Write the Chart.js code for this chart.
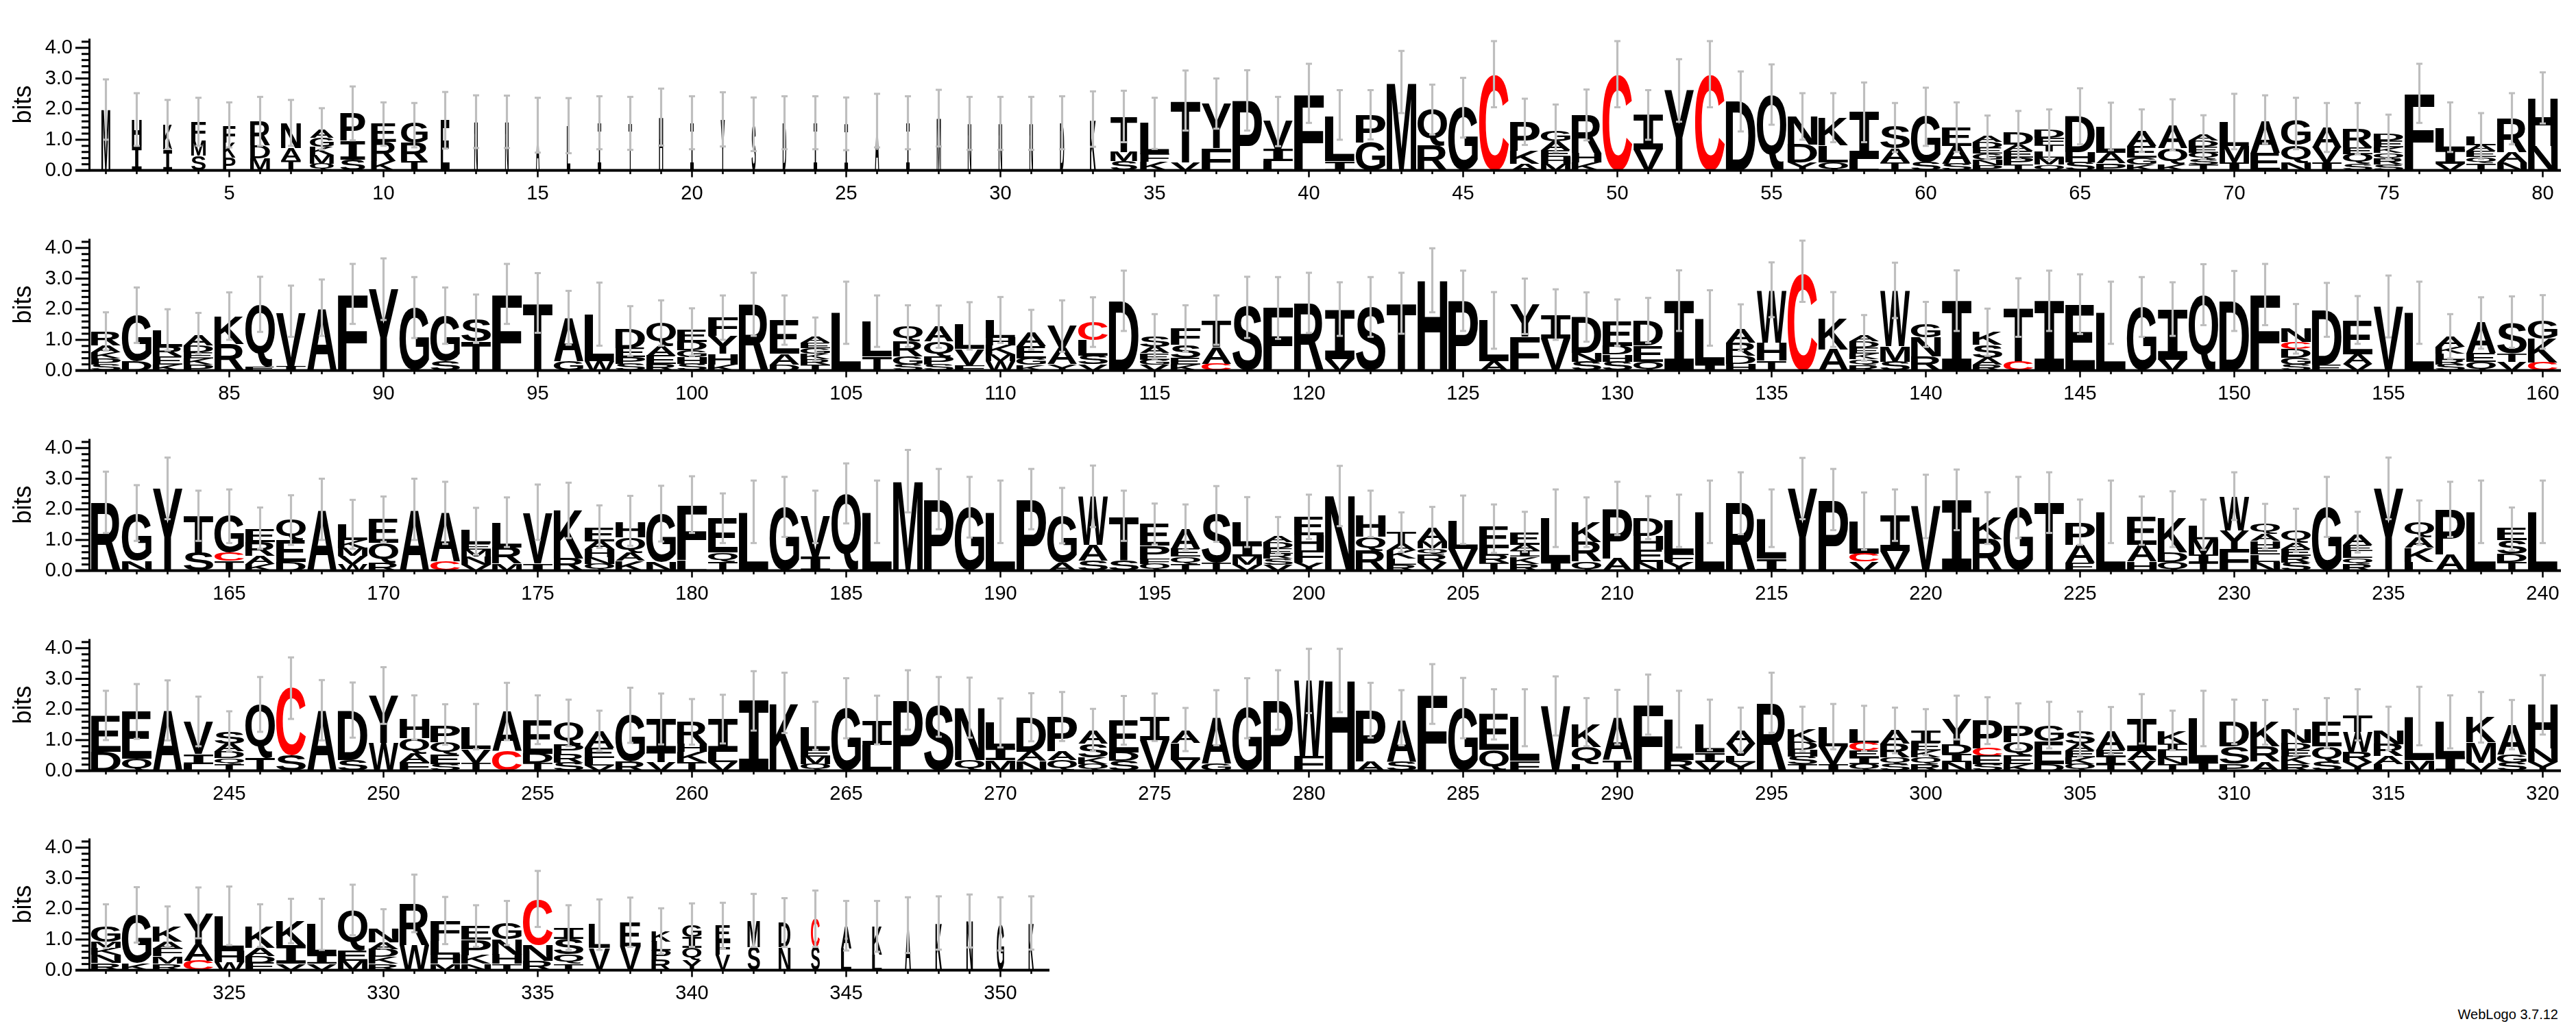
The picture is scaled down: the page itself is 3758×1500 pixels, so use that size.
<!DOCTYPE html>
<html>
<head>
<meta charset="utf-8">
<title>Sequence logo</title>
<script src="https://cdn.jsdelivr.net/npm/chart.js@4"></script>
<style>
  body { margin: 0; background: #fff; }
  #page { position: relative; width: 3758px; height: 1500px; background: #fff; overflow: hidden; }
  #page canvas { position: absolute; left: 0; }
  #credit { position: absolute; right: 26px; top: 1470px; font: 20px "Liberation Sans", Arial, sans-serif; line-height: 20px; color: #000; }
</style>
</head>
<body>
<div id="page">
  <canvas id="row0"></canvas>
  <canvas id="row1"></canvas>
  <canvas id="row2"></canvas>
  <canvas id="row3"></canvas>
  <canvas id="row4"></canvas>
  <div id="credit">WebLogo 3.7.12</div>
</div>
<script>
// letters of each stack, listed bottom -> top (positions 1..351)
const stackLetters = [
  // 1-80
  'M','IH','IK','SMF','PKF','MDR','TAN','QMKGA','SIP','KRE',
  'TRG','E','N','N','A','L','I','T','H','I',
  'Y','S','D','I','I','A','I','M','N','N',
  'N','D','K','SMT','KFL','VT','FY','P','LIV','F',
  'IL','GP','M','RQ','G','C','AKP','MHEAG','KHR','C',
  'VI','Y','C','D','Q','YDN','QLK','LI','TAS','SG',
  'SAE','PNGEDA','TPEAD','QMLTFD','SHD','PAL','KGEA','KQA','TSQEDA','IML',
  'EA','NQG','IVA','SQER','SRQKED','F','VIL','TQEAL','NAR','NH',
  // 81-160
  'SPKAR','DG','KERL','PKEDA','RK','EQ','IV','A','F','Y',
  'G','SG','TS','F','T','GA','WL','SPED','REAQ','SHGDE',
  'KHYF','R','DAE','TRKGEA','L','TL','SGRQ','SPQA','FVL','WMKHL',
  'KGEA','YAV','VSLC','D','VGEAS','KESF','CAT','S','LF','R',
  'VI','S','T','H','P','AL','FY','VI','SND','SHDE',
  'QED','I','IL','HDRA','THW','C','AK','RQKEDA','SMW','RNG',
  'I','RASK','CT','I','E','L','G','VI','Q','D',
  'F','SGDCN','ED','VAE','V','L','SRLKA','QEA','VTS','CKG',
  // 161-240
  'R','NG','Y','ST','TCG','KARE','DEQ','A','WVMKL','RQE',
  'A','CA','VNMEL','MRL','IV','RK','QNHAE','KAQH','NG','LF',
  'TQE','L','G','IV','Q','L','M','P','G','L',
  'P','AG','SAW','ST','QFPE','TQEA','TS','VMIL','VSREDA','YFHE',
  'N','RQH','RLKAT','VRQMA','VL','TRLE','RKIAE','IL','QRK','AP',
  'NEHD','YFL','L','R','IL','Y','P','VCL','VI','V',
  'I','RK','G','T','EAP','L','HAE','QDK','TIML','FYW',
  'NLEHAQ','SREAQ','G','RQLEA','Y','LKAQ','AP','L','TDSE','L',
  // 241-320
  'DE','QE','A','LIV','TQDAS','TQ','SC','A','SD','WY',
  'FAQH','SEQP','TVL','CA','TDE','SRPQ','VLEA','RG','VTI','TKHR',
  'VLI','I','K','QMEL','G','LI','P','S','QN','MIL',
  'NAD','QAP','QKSA','SDE','VI','VLA','GA','G','P','FW',
  'H','AP','SA','F','G','QE','FL','V','LQK','TA',
  'F','RL','VIL','YLVA','R','TSHDK','IVL','QIECL','SQRA','RQKEI',
  'NIDY','SECP','KEQP','DEG','QKEAS','TIEA','VAI','TNLIK','IL','PSD',
  'ARK','RKEDN','SQE','YRWT','LARN','ML','IL','VMK','SGA','YNH',
  // 321-351
  'RNKMG','KG','RMFAK','CAY','WHL','EDAK','VIK','VIL','MEQ','RKDAN',
  'WR','MHLF','NKPE','THNG','RNC','TQSI','VL','VE','RPLK','YQIG',
  'VFE','SM','ND','SC','LA','LK','A','K','N','G','K'
];

// height in bits of each letter, same order as stackLetters
const stackBits = [
  // 1-80
  [2.0],[0.8,0.85],[0.68,0.8],[0.48,0.5,0.6],[0.42,0.48,0.55],[0.4,0.42,0.78],[0.33,0.4,0.8],[0.22,0.28,0.27,0.3,0.25],[0.35,0.62,0.9],[0.3,0.62,0.6],
  [0.3,0.6,0.68],[1.65],[1.58],[1.58],[1.47],[1.46],[1.55],[1.54],[1.74],[1.55],
  [1.66],[1.5],[1.55],[1.55],[1.52],[1.62],[1.55],[1.7],[1.54],[1.54],
  [1.54],[1.56],[1.64],[0.3,0.3,1.15],[0.28,0.25,1.03],[0.25,2.0],[0.72,1.45],[2.28],[0.3,0.4,0.9],[2.48],
  [0.3,1.45],[0.9,0.9],[2.87],[0.8,1.18],[2.05],[3.13],[0.22,0.42,0.95],[0.22,0.22,0.22,0.28,0.36],[0.27,0.3,1.23],[3.13],
  [0.68,1.12],[2.63],[3.13],[2.25],[2.45],[0.25,0.6,0.93],[0.27,0.55,0.9],[0.37,1.55],[0.25,0.47,0.72],[0.25,1.52],
  [0.22,0.58,0.6],[0.18,0.17,0.2,0.19,0.2,0.2],[0.2,0.22,0.22,0.2,0.4],[0.2,0.22,0.2,0.22,0.22,0.26],[0.25,0.35,1.18],[0.23,0.35,0.85],[0.2,0.22,0.38,0.5],[0.2,0.53,0.75],[0.2,0.16,0.22,0.2,0.2,0.2],[0.25,0.55,0.78],
  [0.57,1.05],[0.25,0.57,0.8],[0.25,0.5,0.65],[0.2,0.33,0.22,0.6],[0.18,0.2,0.2,0.17,0.22,0.23],[2.5],[0.22,0.45,0.7],[0.23,0.2,0.2,0.2,0.27],[0.25,0.33,1.1],[0.8,1.55],
  // 81-160
  [0.2,0.2,0.2,0.22,0.46],[0.3,1.5],[0.2,0.25,0.33,0.55],[0.2,0.2,0.2,0.22,0.35],[0.87,0.88],[0.13,2.0],[0.13,1.75],[2.0],[2.49],[2.65],
  [2.04],[0.3,1.48],[0.95,0.72],[2.49],[2.2],[0.3,1.4],[0.3,1.53],[0.22,0.22,0.3,0.64],[0.22,0.27,0.32,0.74],[0.22,0.22,0.22,0.28,0.4],
  [0.2,0.35,0.58,0.6],[2.17],[0.2,0.35,1.1],[0.2,0.17,0.18,0.17,0.18,0.2],[1.9],[0.45,1.15],[0.2,0.25,0.5,0.5],[0.2,0.25,0.5,0.5],[0.18,0.52,0.8],[0.3,0.22,0.3,0.25,0.58],
  [0.18,0.22,0.4,0.45],[0.2,0.55,0.72],[0.2,0.28,0.5,0.6],[2.26],[0.2,0.16,0.2,0.22,0.35],[0.2,0.22,0.42,0.55],[0.22,0.55,0.85],[2.08],[0.07,2.0],[2.2],
  [0.38,1.6],[2.07],[2.2],[2.94],[2.28],[0.3,1.35],[1.1,1.05],[1.05,0.77],[0.29,0.28,1.17],[0.29,0.24,0.27,0.8],
  [0.29,0.52,0.8],[2.27],[0.2,1.5],[0.22,0.26,0.42,0.45],[0.32,0.58,1.7],[3.15],[0.68,1.02],[0.17,0.2,0.18,0.2,0.2,0.2],[0.29,0.5,1.8],[0.45,0.63,0.45],
  [2.27],[0.2,0.22,0.42,0.42],[0.29,1.75],[2.27],[2.15],[1.9],[2.05],[0.36,1.62],[2.48],[2.26],
  [2.48],[0.2,0.22,0.28,0.22,0.45],[0.2,1.77],[0.22,0.3,1.1],[2.1],[1.89],[0.2,0.16,0.2,0.22,0.35],[0.29,0.27,1.0],[0.29,0.27,1.0],[0.26,0.78,0.6],
  // 161-240
  [2.23],[0.32,1.52],[2.68],[0.58,1.2],[0.32,0.27,1.2],[0.22,0.27,0.45,0.42],[0.28,0.7,0.7],[1.97],[0.22,0.26,0.26,0.26,0.5],[0.26,0.65,0.77],
  [1.95],[0.29,1.58],[0.2,0.25,0.23,0.2,0.45],[0.23,0.53,0.8],[0.23,1.64],[0.39,1.58],[0.22,0.22,0.26,0.26,0.45],[0.32,0.26,0.5,0.5],[0.29,1.57],[0.35,1.8],
  [0.29,0.3,1.12],[1.9],[2.07],[0.45,1.33],[2.52],[1.9],[2.92],[2.33],[2.07],[1.9],
  [2.33],[0.26,1.54],[0.33,0.52,1.57],[0.33,1.42],[0.22,0.16,0.43,0.72],[0.22,0.23,0.25,0.65],[0.26,1.58],[0.2,0.25,0.4,0.75],[0.2,0.2,0.16,0.18,0.2,0.2],[0.26,0.4,0.5,0.6],
  [2.45],[0.65,0.45,0.7],[0.2,0.2,0.25,0.23,0.38],[0.26,0.26,0.2,0.23,0.45],[0.71,0.92],[0.26,0.25,0.22,0.7],[0.22,0.23,0.2,0.2,0.4],[0.29,1.42],[0.29,0.65,0.67],[0.39,1.62],
  [0.29,0.4,0.45,0.56],[0.29,0.27,1.1],[1.93],[2.21],[0.39,1.3],[2.68],[2.32],[0.29,0.25,1.07],[0.65,1.15],[2.12],
  [2.3],[1.03,0.72],[2.06],[2.22],[0.26,0.58,0.72],[1.92],[0.29,0.55,0.9],[0.29,0.3,1.12],[0.26,0.26,0.5,0.45],[0.71,0.6,1.1],
  [0.29,0.23,0.22,0.23,0.23,0.32],[0.26,0.22,0.22,0.2,0.42],[2.07],[0.22,0.2,0.22,0.2,0.35],[2.68],[0.29,0.45,0.35,0.5],[0.52,1.48],[1.92],[0.29,0.26,0.45,0.4],[1.92],
  // 241-320
  [0.62,1.16],[0.4,1.54],[1.97],[0.22,0.32,1.05],[0.22,0.2,0.22,0.25,0.38],[0.42,1.74],[0.5,2.2],[1.97],[0.36,1.61],[0.9,1.55],
  [0.28,0.28,0.5,0.62],[0.22,0.3,0.42,0.55],[0.26,0.44,0.7],[0.64,1.3],[0.26,0.3,1.1],[0.26,0.28,0.3,0.74],[0.16,0.25,0.33,0.55],[0.3,1.52],[0.29,0.33,1.08],[0.29,0.33,0.25,0.72],
  [0.29,0.33,1.07],[2.29],[2.2],[0.22,0.25,0.22,0.75],[2.04],[0.85,0.78],[2.3],[2.12],[0.35,1.7],[0.35,0.4,0.82],
  [0.32,0.3,1.12],[0.35,0.28,1.12],[0.22,0.22,0.45,0.42],[0.32,0.28,1.05],[1.0,0.75],[0.36,0.55,0.4],[0.23,1.5],[2.06],[2.3],[0.48,2.45],
  [2.93],[0.3,1.67],[0.3,1.35],[2.49],[2.04],[0.68,1.17],[0.32,1.42],[2.12],[0.22,0.55,0.75],[0.33,1.38],
  [2.15],[0.35,1.33],[0.29,0.3,0.9],[0.29,0.2,0.4,0.42],[2.2],[0.22,0.25,0.22,0.25,0.42],[0.22,0.57,0.62],[0.22,0.22,0.22,0.25,0.45],[0.22,0.22,0.45,0.45],[0.22,0.22,0.22,0.25,0.4],
  [0.29,0.25,0.3,0.85],[0.22,0.27,0.25,0.92],[0.22,0.27,0.45,0.56],[0.22,0.75,0.5],[0.22,0.22,0.22,0.22,0.4],[0.22,0.25,0.22,0.6],[0.35,0.3,1.05],[0.22,0.22,0.22,0.22,0.4],[0.29,1.42],[0.22,0.57,0.8],
  [0.29,0.5,0.8],[0.22,0.25,0.22,0.22,0.45],[0.29,0.5,0.8],[0.29,0.33,0.65,0.55],[0.22,0.25,0.4,0.45],[0.35,1.4],[0.45,1.15],[0.26,0.66,0.82],[0.26,0.25,0.98],[0.29,0.45,1.45],
  // 321-351
  [0.24,0.26,0.22,0.2,0.5],[0.24,1.55],[0.21,0.24,0.25,0.23,0.5],[0.31,0.53,1.0],[0.25,0.36,1.15],[0.24,0.22,0.27,0.7],[0.21,0.6,0.78],[0.21,0.3,1.0],[0.31,0.33,1.3],[0.21,0.22,0.25,0.22,0.45],
  [0.82,1.35],[0.21,0.3,0.45,0.65],[0.21,0.28,0.5,0.45],[0.21,0.3,0.5,0.52],[0.31,0.52,1.47],[0.21,0.3,0.5,0.35],[0.72,0.78],[0.78,0.78],[0.34,0.3,0.3,0.33],[0.34,0.4,0.35,0.38],
  [0.5,0.45,0.5],[0.76,0.86],[0.76,0.8],[0.76,0.92],[0.7,0.73],[0.5,0.93],[1.46],[1.54],[1.6],[1.51],[1.54]
];

// relative stack width (fraction of sequences without a gap), one line per logo row
const stackWidthRow1 = [
  0.3,0.33,0.3,0.49,0.42,0.67,0.67,0.81,0.84,0.84, 0.9,0.3,0.12,0.12,0.12,0.12,0.12,0.12,0.14,0.12,
  0.14,0.14,0.12,0.12,0.12,0.14,0.12,0.14,0.12,0.12, 0.12,0.14,0.2,0.9,0.98,1,1,1,1,1,
  1,1,1,1,1,1,1,1,1,1, 1,1,1,1,1,1,1,1,1,1, 1,1,1,1,1,1,1,1,1,1, 1,1,1,1,1,1,1,1,1,1
];
const stackWidthRow2 = [
  1,1,1,1,1,1,1,1,1,1, 1,1,1,1,1,1,1,1,1,1, 1,1,1,1,1,1,1,1,1,1, 1,1,1,1,1,1,1,1,1,1,
  1,1,1,1,1,1,1,1,1,1, 1,1,1,1,1,1,1,1,1,1, 1,1,1,1,1,1,1,1,1,1, 1,1,1,1,1,1,1,1,1,1
];
const stackWidthRow3 = [
  1,1,1,1,1,1,1,1,1,1, 1,1,1,1,1,1,1,1,1,1, 1,1,1,1,1,1,1,1,1,1, 1,1,1,1,1,1,1,1,1,1,
  1,1,1,1,1,1,1,1,1,1, 1,1,1,1,1,1,1,1,1,1, 1,1,1,1,1,1,1,1,1,1, 1,1,1,1,1,1,1,1,1,1
];
const stackWidthRow4 = [
  1,1,1,1,1,1,1,1,1,1, 1,1,1,1,1,1,1,1,1,1, 1,1,1,1,1,1,1,1,1,1, 1,1,1,1,1,1,1,1,1,1,
  1,1,1,1,1,1,1,1,1,1, 1,1,1,1,1,1,1,1,1,1, 1,1,1,1,1,1,1,1,1,1, 1,1,1,1,1,1,1,1,1,1
];
const stackWidthRow5 = [
  1,1,1,1,1,1,1,1,1,1, 1,1,1,1,1,1,0.72,0.7,0.65,0.65,
  0.5,0.42,0.4,0.3,0.35,0.33,0.2,0.22,0.22,0.25,0.18
];
const stackWidth = [...stackWidthRow1, ...stackWidthRow2, ...stackWidthRow3, ...stackWidthRow4, ...stackWidthRow5];

// error bar ends (bits)
const errLow = [
  1.0,0.8,0.7,0.8,0.75,0.8,0.8,0.68,0.98,0.8, 0.75,0.71,0.73,0.73,0.58,0.56,0.69,0.67,0.81,0.69,
  0.78,0.63,0.69,0.69,0.66,0.75,0.69,0.78,0.67,0.67, 0.67,0.69,0.77,0.92,0.7,1.3,1.36,1.3,0.79,1.55,
  1.0,1.01,1.87,1.17,1.07,2.06,0.83,0.6,0.98,2.06, 1.0,1.59,2.06,1.27,1.49,1.0,0.92,0.92,0.6,0.8,
  0.6,0.35,0.37,0.34,0.85,0.66,0.6,0.66,0.37,0.69, 0.88,0.69,0.6,0.53,0.37,1.55,0.6,0.37,0.85,1.53,
  0.65,0.9,0.65,0.55,1.0,1.26,1.1,1.13,1.52,1.65, 1.06,0.87,0.9,1.52,1.23,0.84,0.81,0.48,0.81,0.48,
  1.0,1.13,0.84,0.32,0.87,0.77,0.77,0.74,0.68,0.9, 0.68,0.61,0.77,1.29,0.39,0.61,0.84,1.06,1.03,1.23,
  1.13,1.1,1.2,1.9,1.29,0.71,1.19,1.0,0.94,0.81, 0.9,1.29,0.81,0.65,1.74,2.24,0.77,0.32,1.71,0.77,
  1.29,0.48,1.1,1.29,1.19,0.87,1.1,1.13,1.48,1.29, 1.48,0.55,1.1,0.87,1.08,0.87,0.39,0.71,0.74,0.71,
  1.23,0.97,1.68,0.97,0.9,0.71,0.84,1.0,0.71,0.94, 1.0,0.87,0.52,0.77,1.0,1.06,0.74,0.81,0.95,1.23,
  0.9,0.9,1.1,0.9,1.54,0.9,1.9,1.35,1.08,0.9, 1.35,0.89,1.42,0.97,0.85,0.68,0.94,0.77,0.55,1.03,
  1.45,1.1,0.61,0.65,0.87,0.58,0.61,0.77,0.77,1.16, 1.03,0.77,0.9,1.19,0.77,1.68,1.32,0.68,0.97,1.06,
  1.32,0.87,1.06,1.23,0.84,0.9,0.84,0.77,0.68,1.65, 0.71,0.61,1.1,0.59,1.68,0.84,1.1,0.9,0.65,0.9,
  1.0,1.04,0.99,0.8,0.64,1.27,1.69,0.99,1.08,1.53, 1.02,0.85,0.7,1.0,0.87,0.8,0.64,0.91,0.86,0.85,
  0.89,1.31,1.23,0.68,1.06,0.86,1.34,1.11,1.08,0.76, 0.96,0.97,0.64,0.85,0.97,0.64,0.83,1.06,1.34,1.88,
  1.91,1.08,0.83,1.53,1.06,1.02,0.8,1.15,0.8,0.86, 1.18,0.76,0.67,0.6,1.24,0.64,0.7,0.64,0.57,0.51,
  1.02,0.87,0.7,0.73,0.48,0.54,0.89,0.67,0.8,0.87, 0.85,0.51,0.75,0.99,0.67,0.83,0.73,0.92,0.7,1.18,
  0.72,0.9,0.76,1.04,0.82,0.76,0.88,0.66,1.14,0.71, 1.24,0.85,0.76,0.82,1.41,0.66,0.66,0.76,0.53,0.76,
  0.71,0.76,0.76,0.76,0.64,0.6,0.56,0.67,0.74,0.64,0.67
];
const errHigh = [
  2.97,2.52,2.3,2.37,2.22,2.4,2.3,2.03,2.74,2.22, 2.2,2.56,2.45,2.44,2.37,2.36,2.42,2.40,2.67,2.42,
  2.55,2.38,2.42,2.42,2.38,2.5,2.42,2.63,2.40,2.40, 2.40,2.42,2.58,2.6,2.37,3.26,3.0,3.27,2.4,3.48,
  2.62,2.62,3.9,2.8,3.02,4.22,2.34,2.15,2.64,4.22, 2.62,3.63,4.22,3.23,3.46,2.52,2.52,2.87,2.2,2.7,
  2.22,1.79,1.94,1.99,2.68,2.21,1.99,2.32,1.8,2.5, 2.45,2.37,2.2,2.2,1.82,3.48,2.22,1.87,2.52,3.2,
  1.9,2.71,2.0,1.88,2.55,3.06,2.77,2.97,3.48,3.66, 3.05,2.71,2.48,3.48,3.18,2.6,2.87,2.1,2.29,2.03,
  2.45,3.19,2.45,1.73,2.9,2.45,2.13,2.12,2.23,2.4, 1.98,2.29,2.39,3.26,1.84,2.13,2.45,3.06,3.05,3.19,
  2.88,3.05,3.19,3.99,3.26,2.56,3.0,2.65,2.55,2.32, 2.37,3.27,2.62,2.16,3.53,4.24,2.56,1.81,3.52,2.24,
  3.27,2.02,3.01,3.26,3.14,2.9,3.05,2.88,3.47,3.25, 3.48,2.17,2.86,2.43,3.1,2.9,1.84,2.39,2.42,2.46,
  3.23,2.79,3.69,2.61,2.65,2.06,2.46,3.0,2.31,2.42, 3.0,2.9,2.05,2.39,2.81,2.87,2.13,2.44,2.77,3.08,
  2.52,2.94,3.06,2.61,3.5,2.94,3.94,3.32,3.06,2.94, 3.32,2.7,3.43,2.61,2.19,2.16,2.76,2.4,1.75,2.48,
  3.42,2.61,1.9,2.08,2.45,2.16,1.92,2.65,2.39,2.9, 2.43,2.48,2.94,3.21,2.65,3.68,3.32,2.55,2.65,3.13,
  3.3,2.56,3.06,3.21,2.32,2.94,2.42,2.59,2.32,3.21, 2.18,2.02,3.06,1.92,3.69,2.29,2.9,2.94,2.06,2.94,
  2.61,2.83,2.95,2.42,1.94,3.06,3.7,2.96,2.88,3.38, 2.46,2.17,2.18,2.87,2.46,2.32,1.96,2.71,2.52,2.34,
  2.48,3.25,3.2,2.25,3.02,2.45,3.28,3.06,3.04,2.36, 2.53,2.57,2.02,2.44,2.52,2.05,2.63,3.02,3.28,3.98,
  3.98,2.87,2.63,3.48,3.03,2.66,2.66,3.08,2.37,2.64, 3.14,2.61,2.32,2.06,3.2,2.09,2.18,2.12,2.06,2.01,
  2.45,2.4,2.2,2.25,1.93,2.08,2.5,1.96,2.61,2.32, 2.31,2.01,2.37,2.66,2.09,2.74,2.46,2.57,2.31,3.12,
  2.15,2.71,2.08,2.7,2.73,2.15,2.33,2.33,2.79,1.99, 3.12,2.39,2.12,2.26,3.24,2.12,2.31,2.37,2.02,2.18,
  2.2,2.49,2.35,2.6,2.26,2.26,2.38,2.41,2.47,2.38,2.41
];

// axis ticks
const xTickValues = [5,10,15,20,25,30,35,40,45,50,55,60,65,70,75,80,85,90,95,100,
  105,110,115,120,125,130,135,140,145,150,155,160,165,170,175,180,185,190,195,200,
  205,210,215,220,225,230,235,240,245,250,255,260,265,270,275,280,285,290,295,300,
  305,310,315,320,325,330,335,340,345,350];
const yTickValues = [0, 1, 2, 3, 4];
const yMinorTicks = [0.2,0.4,0.6,0.8,1.2,1.4,1.6,1.8,2.2,2.4,2.6,2.8,3.2,3.4,3.6,3.8,4.2];

// layout of the five lines
const rows = [
  { first: 1,   last: 80,  base: 249 },
  { first: 81,  last: 160, base: 540.5 },
  { first: 161, last: 240, base: 833 },
  { first: 241, last: 320, base: 1125 },
  { first: 321, last: 351, base: 1416 }
];

const AXIS_W = 132, PAD_TOP = 12, PLOT_H = 4.3 * 52, CANVAS_H = 290, COL_W = 45;
const RED = '#ff0000', GREY = '#bebebe';

Chart.defaults.font.family = '"Liberation Sans", Arial, sans-serif';
Chart.defaults.color = '#000';

const glyphCache = {};
function glyphFont(ch) {
  return ch === 'I' ? 'bold 200px "DejaVu Sans Mono"' : 'bold 200px "Liberation Sans"';
}
function drawLetter(ctx, ch, x0, x1, yTop, yBot, color) {
  const w = x1 - x0, h = yBot - yTop;
  if (!(w > 0.3) || !(h > 0.3)) return;
  ctx.save();
  ctx.font = glyphFont(ch);
  ctx.textAlign = 'left';
  ctx.textBaseline = 'alphabetic';
  if (!glyphCache[ch]) {
    const m = ctx.measureText(ch);
    glyphCache[ch] = { l: m.actualBoundingBoxLeft, r: m.actualBoundingBoxRight,
      a: m.actualBoundingBoxAscent, d: m.actualBoundingBoxDescent };
  }
  const g = glyphCache[ch];
  ctx.translate(x0, yTop);
  ctx.scale(w / (g.l + g.r), h / (g.a + g.d));
  ctx.fillStyle = color;
  ctx.fillText(ch, g.l, g.a);
  ctx.restore();
}

const logoPlugin = {
  id: 'logo',
  afterDatasetDraw(chart, args) {
    const ds = chart.data.datasets[args.index];
    const ctx = chart.ctx;
    if (ds.kind === 'letters') {
      args.meta.data.forEach((el, j) => {
        const d = ds.data[j];
        const w = el.width * (d.w == null ? 1 : d.w);
        const top = Math.min(el.y, el.base), bot = Math.max(el.y, el.base);
        drawLetter(ctx, d.ch, el.x - w / 2, el.x + w / 2, top, bot, d.ch === 'C' ? RED : '#000');
      });
    } else if (ds.kind === 'err') {
      ctx.save();
      ctx.fillStyle = GREY;
      args.meta.data.forEach(el => {
        ctx.fillRect(el.x - 4.5, el.y - 1.5, 9, 3);
        ctx.fillRect(el.x - 4.5, el.base - 1.5, 9, 3);
      });
      ctx.restore();
    }
  },
  afterDatasetsDraw(chart, args, opts) {
    const { ctx, chartArea: ca, scales: { x, y } } = chart;
    const y0 = y.getPixelForValue(0);
    ctx.save();
    ctx.fillStyle = '#000';
    ctx.fillRect(ca.left - 22, y0 - 2, ca.right - ca.left + 26, 4);
    ctx.fillRect(ca.left - 3, ca.top, 3, y0 - ca.top);
    yTickValues.forEach(v => {
      const py = y.getPixelForValue(v);
      ctx.fillRect(ca.left - 22, py - 1.5, 22, 3);
    });
    yMinorTicks.forEach(v => {
      const py = y.getPixelForValue(v);
      ctx.fillRect(ca.left - 13, py - 1.5, 13, 3);
    });
    for (let p = opts.first; p <= opts.last; p++) {
      const px = x.getPixelForValue(p);
      const len = xTickValues.includes(p) ? 10 : 5.5;
      ctx.fillRect(px - 1.25, y0, 2.5, len);
    }
    ctx.restore();
  }
};

rows.forEach((row, r) => {
  const canvas = document.getElementById('row' + r);
  const n = row.last - row.first + 1;
  const padRight = r < 4 ? 26 : 33;
  canvas.width = AXIS_W + n * COL_W + padRight;
  canvas.height = CANVAS_H;
  canvas.style.top = (row.base - PAD_TOP - PLOT_H) + 'px';

  const layers = [];
  const errs = [];
  for (let p = row.first; p <= row.last; p++) {
    const i = p - 1;
    const letters = stackLetters[i], bits = stackBits[i];
    let y0 = 0;
    for (let k = 0; k < Math.min(letters.length, bits.length); k++) {
      if (!layers[k]) layers[k] = [];
      layers[k].push({ x: p, y: [y0, y0 + bits[k]], ch: letters[k], w: stackWidth[i] });
      y0 += bits[k];
    }
    errs.push({ x: p, y: [errLow[i], errHigh[i]] });
  }

  const datasets = layers.map((data, k) => ({
    label: 'layer ' + k, kind: 'letters', data,
    backgroundColor: 'rgba(0,0,0,0)', borderWidth: 0,
    grouped: false, categoryPercentage: 1, barPercentage: 0.96, order: 1
  }));
  datasets.push({
    label: 'error', kind: 'err', data: errs,
    backgroundColor: GREY, borderWidth: 0,
    grouped: false, barThickness: 2.5, order: 0
  });

  new Chart(canvas, {
    type: 'bar',
    data: { datasets },
    options: {
      responsive: false,
      animation: false,
      devicePixelRatio: 1,
      layout: { padding: { top: PAD_TOP, right: padRight, left: 0, bottom: 0 } },
      plugins: {
        legend: { display: false },
        tooltip: { enabled: false },
        logo: { first: row.first, last: row.last }
      },
      scales: {
        x: {
          type: 'linear',
          min: row.first - 0.5,
          max: row.last + 0.5,
          offset: false,
          grid: { display: false, drawTicks: false, offset: false },
          border: { display: false },
          afterBuildTicks: s => {
            s.ticks = xTickValues.filter(v => v >= row.first && v <= row.last).map(v => ({ value: v }));
          },
          afterFit: s => { s.height = CANVAS_H - PAD_TOP - PLOT_H; },
          ticks: {
            autoSkip: false, maxRotation: 0, minRotation: 0, padding: 16.6,
            color: '#000', font: { size: 29 }, callback: v => String(v)
          }
        },
        y: {
          min: 0,
          max: 4.3,
          grid: { display: false, drawTicks: false },
          border: { display: false },
          afterBuildTicks: s => { s.ticks = yTickValues.map(v => ({ value: v })); },
          afterFit: s => { s.width = AXIS_W; },
          ticks: { padding: 26, color: '#000', font: { size: 29 }, callback: v => v.toFixed(1) },
          title: { display: true, text: 'bits', color: '#000', font: { size: 36 }, padding: { top: 13, bottom: 0 } }
        }
      }
    },
    plugins: [logoPlugin]
  });
});
</script>
</body>
</html>
